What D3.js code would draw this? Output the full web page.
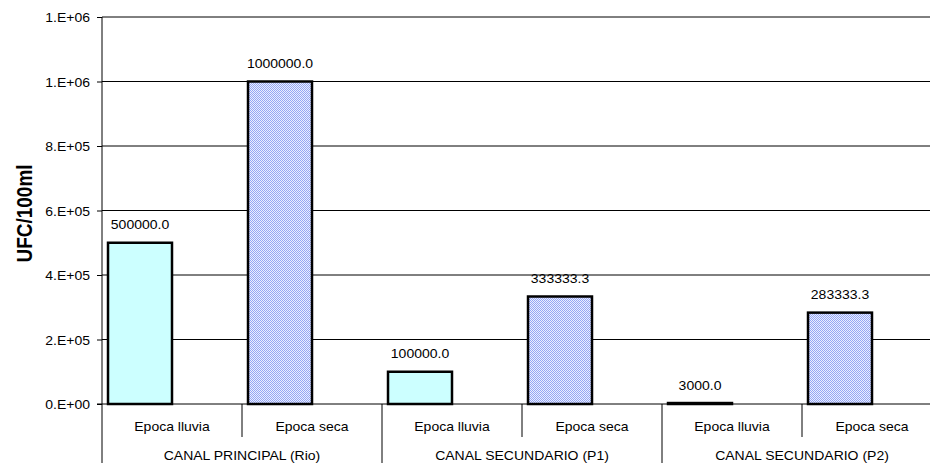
<!DOCTYPE html>
<html>
<head>
<meta charset="utf-8">
<script src="https://cdn.jsdelivr.net/npm/d3@7/dist/d3.min.js"></script>
<style>
  html, body { margin: 0; padding: 0; background: #fff; }
  svg { display: block; font-family: "Liberation Sans", Arial, sans-serif; }
</style>
</head>
<body>
<svg id="chart" width="930" height="463"></svg>
<script>
// Sampling points and seasons
const groups = ["CANAL PRINCIPAL (Rio)", "CANAL SECUNDARIO (P1)", "CANAL SECUNDARIO (P2)"];
const seasons = ["Epoca lluvia", "Epoca seca"];
// UFC/100ml per (group, season), in group order
const countValues = [500000.0, 1000000.0, 100000.0, 333333.3, 3000.0, 283333.3];
// second series: only present on the last slot, with a zero value
const extraValues = [null, null, null, null, null, 0];
const yTicks = [0, 200000, 400000, 600000, 800000, 1000000, 1200000];
const yTitle = "UFC/100ml";

const svg = d3.select("#chart");
const plot = { left: 102, top: 17, bottom: 404, right: 942 };
const FS = 12.5;      // label font size
const SX = 1.12;      // horizontal widening of the label glyphs

// one slot per (group, season)
const slots = [];
groups.forEach((g, gi) => seasons.forEach((s, si) => slots.push({ key: gi + "|" + si, group: g, season: s, gi, si })));
slots.forEach((d, i) => { d.value = countValues[i]; d.extra = extraValues[i]; });

const x0 = d3.scaleBand().domain(slots.map(d => d.key)).range([plot.left, plot.right]);
const x1 = d3.scaleBand().domain(["a", "b"]).range([0, x0.bandwidth()]).paddingInner(0).paddingOuter(0.094);
const xg = d3.scaleBand().domain(groups).range([plot.left, plot.right]);
const y = d3.scaleLinear().domain([0, 1200000]).range([plot.bottom, plot.top]);

// fill pattern for the dry-season bars
const defs = svg.append("defs");
const pat = defs.append("pattern").attr("id", "checker").attr("patternUnits", "userSpaceOnUse")
  .attr("width", 2).attr("height", 2);
pat.append("rect").attr("width", 2).attr("height", 2).attr("fill", "#eaeeff");
pat.append("rect").attr("width", 1).attr("height", 1).attr("fill", "#94a6f4");
pat.append("rect").attr("x", 1).attr("y", 1).attr("width", 1).attr("height", 1).attr("fill", "#94a6f4");

const fmtExp = v => {
  if (v === 0) return "0.E+00";
  let e = Math.floor(Math.log10(v));
  let m = Math.round(v / Math.pow(10, e));
  if (m >= 10) { m = 1; e += 1; }
  return m + ".E+" + String(e).padStart(2, "0");
};

// places a widened label at (x, y)
function label(sel, fx, fy) {
  return sel.attr("x", 0).attr("y", 0)
    .attr("transform", (d, i) => `translate(${fx(d, i)},${fy(d, i)}) scale(${SX},1)`)
    .attr("font-size", FS).attr("fill", "#000");
}

// gridlines
svg.append("g").selectAll("line").data(yTicks.filter(t => t > 0)).join("line")
  .attr("x1", plot.left).attr("x2", 930)
  .attr("y1", d => y(d)).attr("y2", d => y(d))
  .attr("stroke", "#000").attr("stroke-width", 1);

// y axis
const yAxis = d3.axisLeft(y).tickValues(yTicks).tickFormat(fmtExp).tickSize(5).tickPadding(7);
const gy = svg.append("g").attr("transform", `translate(${plot.left},0)`).call(yAxis);
gy.select(".domain").remove();
gy.selectAll(".tick line").attr("stroke", "#000");
gy.selectAll(".tick text")
  .attr("x", 0).attr("dy", "0.36em")
  .attr("transform", `translate(-12,0) scale(${SX},1)`)
  .attr("font-size", FS).attr("fill", "#000")
  .attr("font-family", "'Liberation Sans', Arial, sans-serif");

// bars
const bars = svg.append("g");
bars.selectAll("rect.main").data(slots).join("rect").attr("class", "main")
  .attr("x", d => x0(d.key) + x1("a"))
  .attr("width", x1.bandwidth())
  .attr("y", d => y(d.value))
  .attr("height", d => y(0) - y(d.value))
  .attr("fill", d => d.si === 0 ? "#ccffff" : "url(#checker)")
  .attr("stroke", "#000").attr("stroke-width", 2.5);

bars.selectAll("rect.extra").data(slots.filter(d => d.extra !== null)).join("rect").attr("class", "extra")
  .attr("x", d => x0(d.key) + x1("b"))
  .attr("width", x1.bandwidth())
  .attr("y", d => y(d.extra))
  .attr("height", d => y(0) - y(d.extra))
  .attr("fill", "none")
  .attr("stroke", "#000").attr("stroke-width", 2.5);

// value labels
label(svg.append("g").selectAll("text").data(slots).join("text"),
  d => x0(d.key) + x1("a") + x1.bandwidth() / 2,
  d => y(d.value) - 13.5)
  .attr("text-anchor", "middle")
  .text(d => d.value.toFixed(1));

// axes lines
svg.append("line").attr("x1", plot.left).attr("x2", plot.left).attr("y1", plot.top).attr("y2", 463)
  .attr("stroke", "#000").attr("stroke-width", 1);
svg.append("line").attr("x1", plot.left - 5).attr("x2", 930).attr("y1", y(0)).attr("y2", y(0))
  .attr("stroke", "#000").attr("stroke-width", 1);

// two-level category axis
const cat = svg.append("g");
cat.selectAll("line.sub").data(slots.filter(d => d.si === 1)).join("line").attr("class", "sub")
  .attr("x1", d => x0(d.key)).attr("x2", d => x0(d.key))
  .attr("y1", y(0)).attr("y2", 437).attr("stroke", "#000");
cat.selectAll("line.grp").data(groups.slice(1)).join("line").attr("class", "grp")
  .attr("x1", d => xg(d)).attr("x2", d => xg(d))
  .attr("y1", y(0)).attr("y2", 463).attr("stroke", "#000");
label(cat.selectAll("text.sub").data(slots).join("text").attr("class", "sub"),
  d => x0(d.key) + x0.bandwidth() / 2, () => 431)
  .attr("text-anchor", "middle")
  .text(d => d.season);
label(cat.selectAll("text.grp").data(groups).join("text").attr("class", "grp"),
  d => xg(d) + xg.bandwidth() / 2, () => 460)
  .attr("text-anchor", "middle")
  .text(d => d);

// y title
svg.append("text")
  .attr("transform", `translate(32,${(plot.top + plot.bottom) / 2 + 3}) rotate(-90) scale(1,${SX})`)
  .attr("text-anchor", "middle").attr("font-size", 19).attr("font-weight", "bold").attr("fill", "#000")
  .text(yTitle);
</script>
</body>
</html>
